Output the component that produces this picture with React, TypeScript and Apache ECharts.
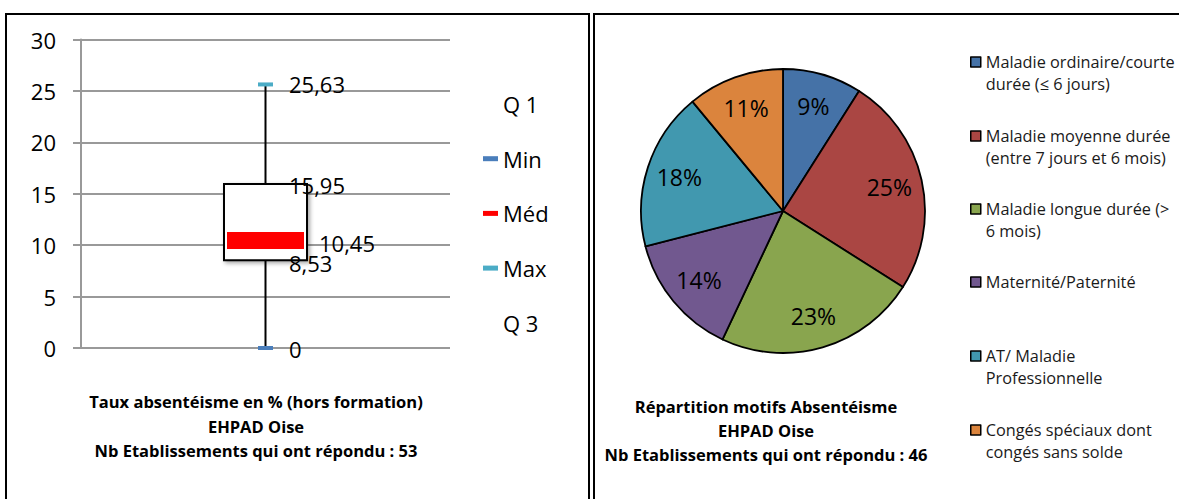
import React, { useEffect, useRef } from "react";
import * as echarts from "echarts";

// ---- Box chart data (Taux absentéisme) ----
const boxCategories = ["EHPAD Oise"];
const minValues = [0];
const q1Values = [8.53];
const medValues = [10.45];
const q3Values = [15.95];
const maxValues = [25.63];
const yMin = 0;
const yMax = 30;
const yInterval = 5;
const boxLegendNames = ["Q 1", "Min", "Méd", "Max", "Q 3"];

// ---- Pie chart data (Répartition motifs) ----
const pieLegendLines = [
  ["Maladie ordinaire/courte", "durée (≤ 6 jours)"],
  ["Maladie moyenne durée", "(entre 7 jours et 6 mois)"],
  ["Maladie longue durée (>", "6 mois)"],
  ["Maternité/Paternité"],
  ["AT/ Maladie", "Professionnelle"],
  ["Congés spéciaux dont", "congés sans solde"],
];
const pieCategories = pieLegendLines.map((l) => l.join(" "));
const pieValues = [9, 25, 23, 14, 18, 11];
const pieColors = ["#4572A7", "#AA4643", "#89A54E", "#71588F", "#4198AF", "#DB843D"];
const pieLegendTops = [62, 136, 209, 282, 356, 430];

const leftTitle = "Taux absentéisme en % (hors formation)\nEHPAD Oise\nNb Etablissements qui ont répondu : 53";
const rightTitle = "Répartition motifs Absentéisme\nEHPAD Oise\nNb Etablissements qui ont répondu : 46";

const FONT = "'Open Sans', 'DejaVu Sans', sans-serif";
const fmt = (v: number) => String(v).replace(".", ",");

export default function App() {
  const ref = useRef<HTMLDivElement>(null);
  useEffect(() => {
    if (!ref.current) return;
    const chart = echarts.init(ref.current, undefined, { renderer: "svg" });

    const scatterLabel = (distance: number, offset: number[]) => ({
      show: true,
      position: "right",
      distance,
      offset,
      fontSize: 22,
      color: "#000",
      opacity: 1,
      fontFamily: FONT,
      formatter: (p: any) => fmt(p.value[1]),
    });

    const lh = 22;
    const pieLegends = pieCategories.map((name, i) => {
      const lines = pieLegendLines[i].length;
      return {
        data: [name],
        orient: "vertical",
        left: 970,
        top: pieLegendTops[i] - (lines > 1 ? lh * 1.5 : lh / 2),
        padding: 0,
        icon: "rect",
        itemWidth: 10,
        itemHeight: 10,
        selectedMode: false,
        itemStyle: { borderColor: "#000", borderWidth: 1.5 },
        formatter: () => (lines > 1 ? "\n" : "") + pieLegendLines[i].join("\n"),
        textStyle: {
          fontFamily: FONT,
          fontSize: 16.3,
          lineHeight: lh,
          color: "#1a1a1a",
        },
      };
    });

    const option: any = {
      animation: false,
      textStyle: { fontFamily: FONT },
      graphic: [
        {
          type: "rect",
          shape: { x: 6, y: 14, width: 583, height: 500 },
          style: { fill: "none", stroke: "#000", lineWidth: 2 },
          silent: true,
        },
        {
          type: "rect",
          shape: { x: 594, y: 14, width: 600, height: 500 },
          style: { fill: "none", stroke: "#000", lineWidth: 2 },
          silent: true,
        },
        {
          type: "text",
          x: 256,
          y: 426,
          style: {
            text: leftTitle,
            align: "center",
            verticalAlign: "middle",
            fontFamily: FONT,
            fontSize: 16.5,
            fontWeight: "bold",
            lineHeight: 24.5,
            fill: "#000",
          },
        },
        {
          type: "text",
          x: 766,
          y: 430.5,
          style: {
            text: rightTitle,
            align: "center",
            verticalAlign: "middle",
            fontFamily: FONT,
            fontSize: 16.5,
            fontWeight: "bold",
            lineHeight: 24,
            fill: "#000",
          },
        },
      ],
      grid: { left: 81, top: 39.5, width: 369, height: 308.5, containLabel: false },
      xAxis: {
        type: "category",
        data: boxCategories,
        axisLine: { show: false },
        axisTick: { show: false },
        axisLabel: { show: false },
        splitLine: { show: false },
      },
      yAxis: {
        type: "value",
        min: yMin,
        max: yMax,
        interval: yInterval,
        axisLine: { show: true, lineStyle: { color: "#999", width: 2 } },
        axisTick: { show: true, length: 8, lineStyle: { color: "#999", width: 2 } },
        axisLabel: { margin: 25, fontSize: 22, color: "#000", fontFamily: FONT },
        splitLine: { show: true, lineStyle: { color: "#999", width: 2 } },
      },
      legend: [
        {
          data: boxLegendNames.map((n) =>
            n === "Q 1" || n === "Q 3" ? { name: n, itemStyle: { color: "rgba(0,0,0,0)" } } : { name: n }
          ),
          orient: "vertical",
          left: 483,
          top: 92,
          padding: 0,
          itemGap: 30.7,
          itemWidth: 15,
          itemHeight: 5,
          selectedMode: false,
          textStyle: { fontFamily: FONT, fontSize: 22, lineHeight: 24, color: "#000" },
        },
        ...pieLegends,
      ],
      series: [
        {
          type: "custom",
          name: "box",
          silent: true,
          z: 2,
          data: boxCategories.map((c, i) => [i, minValues[i], q1Values[i], q3Values[i], maxValues[i]]),
          encode: { x: 0, y: [1, 2, 3, 4] },
          renderItem: (params: any, api: any) => {
            const i = api.value(0);
            const pMin = api.coord([i, api.value(1)]);
            const pQ1 = api.coord([i, api.value(2)]);
            const pQ3 = api.coord([i, api.value(3)]);
            const pMax = api.coord([i, api.value(4)]);
            const w = 83;
            return {
              type: "group",
              children: [
                {
                  type: "line",
                  shape: { x1: pMin[0], y1: pMin[1], x2: pMax[0], y2: pMax[1] },
                  style: { stroke: "#000", lineWidth: 2 },
                },
                {
                  type: "rect",
                  shape: { x: pQ3[0] - w / 2, y: pQ3[1], width: w, height: pQ1[1] - pQ3[1] },
                  style: {
                    fill: "#fff",
                    stroke: "#000",
                    lineWidth: 2,
                    shadowBlur: 4,
                    shadowOffsetX: 2,
                    shadowOffsetY: 2,
                    shadowColor: "rgba(0,0,0,0.35)",
                  },
                },
              ],
            };
          },
        },
        {
          type: "scatter",
          name: "Q 1",
          z: 4,
          silent: true,
          symbol: "rect",
          symbolSize: 1,
          itemStyle: { color: "rgba(0,0,0,0)", opacity: 1 },
          data: boxCategories.map((c, i) => [i, q1Values[i]]),
          label: scatterLabel(23, [0, 3]),
        },
        {
          type: "scatter",
          name: "Min",
          z: 4,
          silent: true,
          symbol: "rect",
          symbolSize: [15, 4],
          itemStyle: { color: "#4A7EBB", opacity: 1 },
          data: boxCategories.map((c, i) => [i, minValues[i]]),
          label: scatterLabel(16, [0, 1]),
        },
        {
          type: "scatter",
          name: "Méd",
          z: 4,
          silent: true,
          symbol: "rect",
          symbolSize: [77, 17],
          itemStyle: { color: "#FF0000", opacity: 1 },
          data: boxCategories.map((c, i) => [i, medValues[i]]),
          label: scatterLabel(15, [0, 2]),
        },
        {
          type: "scatter",
          name: "Max",
          z: 4,
          silent: true,
          symbol: "rect",
          symbolSize: [15, 4],
          itemStyle: { color: "#4BACC6", opacity: 1 },
          data: boxCategories.map((c, i) => [i, maxValues[i]]),
          label: scatterLabel(16, [0, 0]),
        },
        {
          type: "scatter",
          name: "Q 3",
          z: 4,
          silent: true,
          symbol: "rect",
          symbolSize: 1,
          itemStyle: { color: "rgba(0,0,0,0)", opacity: 1 },
          data: boxCategories.map((c, i) => [i, q3Values[i]]),
          label: scatterLabel(23, [0, 1]),
        },
        {
          type: "pie",
          name: "motifs",
          center: [783, 211],
          radius: [0, 142],
          startAngle: 90,
          clockwise: true,
          silent: true,
          label: { show: false },
          labelLine: { show: false },
          itemStyle: { borderColor: "#000", borderWidth: 1.8 },
          data: pieCategories.map((n, i) => ({ name: n, value: pieValues[i], itemStyle: { color: pieColors[i] } })),
        },
        {
          type: "pie",
          name: "motifsLabels",
          center: [783, 211],
          radius: [70, 142],
          startAngle: 90,
          clockwise: true,
          silent: true,
          avoidLabelOverlap: false,
          z: 3,
          itemStyle: { color: "rgba(0,0,0,0)", borderWidth: 0 },
          label: {
            show: true,
            position: "inside",
            fontSize: 23,
            color: "#000",
            fontFamily: FONT,
            formatter: (p: any) => p.value + "%",
          },
          labelLine: { show: false },
          data: pieCategories.map((n, i) => ({ name: n, value: pieValues[i] })),
        },
      ],
    };
    chart.setOption(option);
    return () => chart.dispose();
  }, []);

  return (
    <div
      ref={ref}
      style={{ position: "absolute", left: 0, top: 0, width: 1179, height: 499, background: "#fff" }}
    />
  );
}
